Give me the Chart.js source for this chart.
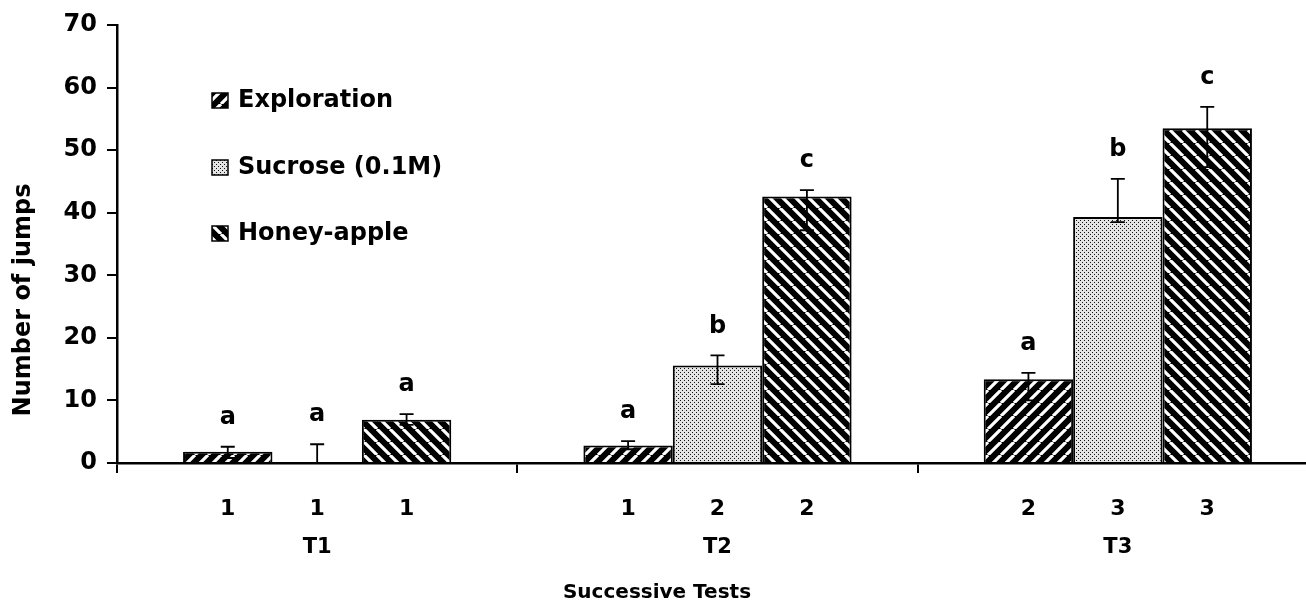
<!DOCTYPE html>
<html>
<head>
<meta charset="utf-8">
<script src="https://cdn.jsdelivr.net/npm/chart.js"></script>
<style>
html, body { margin: 0; padding: 0; overflow: hidden; background: #fff; }
#wrap { width: 1320px; height: 609px; }
</style>
</head>
<body>
<div id="wrap"><canvas id="jumps"></canvas></div>
<script>
var tests = ["T1", "T2", "T3"]
var exploration = [1.8, 2.8, 13.4]
var sucrose = [0, 15.6, 39.3]
var honeyApple = [6.9, 42.6, 53.5]

// error bar ends
var explorationHigh = [2.6, 3.5, 14.4]
var explorationLow = [0.8, 2.2, 10.0]
var sucroseHigh = [3.0, 17.2, 45.4]
var sucroseLow = [0, 12.6, 38.5]
var honeyHigh = [7.8, 43.6, 56.9]
var honeyLow = [6.1, 37.2, 47.3]

// letters above bars and numbers under them
var explorationLetters = ["a", "a", "a"]
var sucroseLetters = ["a", "b", "b"]
var honeyLetters = ["a", "c", "c"]
var explorationRank = ["1", "1", "2"]
var sucroseRank = ["1", "2", "3"]
var honeyRank = ["1", "2", "3"]

var FONT = "'DejaVu Sans', sans-serif"
var highs = [explorationHigh, sucroseHigh, honeyHigh]
var lows = [explorationLow, sucroseLow, honeyLow]
var letters = [explorationLetters, sucroseLetters, honeyLetters]
var ranks = [explorationRank, sucroseRank, honeyRank]

var el = document.getElementById("jumps");
var mainCtx = el.getContext("2d");

function stripes(dir) {
    var s = 13;
    var c = document.createElement("canvas");
    c.width = s; c.height = s;
    var g = c.getContext("2d");
    g.fillStyle = "#000";
    g.fillRect(0, 0, s, s);
    g.strokeStyle = "#fff";
    g.lineWidth = 3.2;
    g.beginPath();
    for (var k = -1; k <= 1; k++) {
        if (dir > 0) { g.moveTo(k * s, s); g.lineTo(k * s + s, 0); }
        else { g.moveTo(k * s, 0); g.lineTo(k * s + s, s); }
    }
    g.stroke();
    return mainCtx.createPattern(c, "repeat");
}

function dots() {
    var c = document.createElement("canvas");
    c.width = 4; c.height = 4;
    var g = c.getContext("2d");
    g.fillStyle = "#e4e4e4";
    g.fillRect(0, 0, 4, 4);
    g.fillStyle = "#111";
    g.fillRect(0, 0, 1, 1);
    g.fillRect(2, 2, 1, 1);
    return mainCtx.createPattern(c, "repeat");
}

var extras = {
    id: "extras",
    afterDatasetsDraw: function (chart) {
        var ctx = chart.ctx, y = chart.scales.y;
        ctx.save();
        ctx.strokeStyle = "#000";
        ctx.fillStyle = "#000";
        ctx.lineWidth = 1.8;
        ctx.textAlign = "center";
        ctx.textBaseline = "middle";
        chart.data.datasets.forEach(function (ds, i) {
            chart.getDatasetMeta(i).data.forEach(function (bar, j) {
                var top = y.getPixelForValue(highs[i][j]);
                var bot = y.getPixelForValue(lows[i][j]);
                ctx.beginPath();
                ctx.moveTo(bar.x, top); ctx.lineTo(bar.x, bot);
                ctx.moveTo(bar.x - 7, top); ctx.lineTo(bar.x + 7, top);
                ctx.moveTo(bar.x - 7, bot); ctx.lineTo(bar.x + 7, bot);
                ctx.stroke();
                ctx.font = "bold 24px " + FONT;
                ctx.fillText(letters[i][j], bar.x, top - 29);
                ctx.font = "bold 22px " + FONT;
                ctx.fillText(ranks[i][j], bar.x, chart.chartArea.bottom + 46);
            });
        });
        ctx.restore();
    },
    afterDraw: function (chart) {
        var ctx = chart.ctx;
        var rows = [101, 168, 234];
        ctx.save();
        ctx.font = "bold 24px " + FONT;
        ctx.textBaseline = "middle";
        ctx.textAlign = "left";
        chart.data.datasets.forEach(function (ds, i) {
            var cy = rows[i];
            ctx.fillStyle = ds.backgroundColor;
            ctx.fillRect(212, cy - 8, 16, 15);
            ctx.strokeStyle = "#000";
            ctx.lineWidth = 1.5;
            ctx.strokeRect(212, cy - 8, 16, 15);
            ctx.fillStyle = "#000";
            ctx.fillText(ds.label, 238, cy);
        });
        // axis titles, centred on the whole figure
        ctx.textAlign = "center";
        ctx.font = "bold 20px " + FONT;
        ctx.fillText("Successive Tests", 657, 593);
        ctx.translate(24, 300);
        ctx.rotate(-Math.PI / 2);
        ctx.font = "bold 24px " + FONT;
        ctx.fillText("Number of jumps", 0, 0);
        ctx.restore();
    }
};

var chart = new Chart(el, {
    type: "bar",
    data: {
        labels: tests,
        datasets: [
            { label: "Exploration", data: exploration, backgroundColor: stripes(1), borderColor: "#000", borderWidth: 2 },
            { label: "Sucrose (0.1M)", data: sucrose, backgroundColor: dots(), borderColor: "#000", borderWidth: 2 },
            { label: "Honey-apple", data: honeyApple, backgroundColor: stripes(-1), borderColor: "#000", borderWidth: 2 }
        ]
    },
    options: {
        responsive: true,
        maintainAspectRatio: false,
        animation: false,
        layout: { padding: { top: 25, right: 2 } },
        datasets: { bar: { categoryPercentage: 0.67, barPercentage: 1.0 } },
        plugins: { legend: { display: false }, tooltip: { enabled: false } },
        scales: {
            x: {
                grid: { display: true, drawOnChartArea: false, offset: true, tickLength: 10, color: "#000", lineWidth: 2 },
                border: { color: "#000", width: 2.5 },
                ticks: { color: "#000", font: { family: FONT, weight: "bold", size: 21 }, padding: 62, maxRotation: 0 },
                afterFit: function (s) { s.height = 146; }
            },
            y: {
                min: 0,
                max: 70,
                grid: { drawOnChartArea: false, tickLength: 10, color: "#000", lineWidth: 2 },
                border: { color: "#000", width: 2.5 },
                ticks: { stepSize: 10, color: "#000", font: { family: FONT, weight: "bold", size: 24 }, padding: 10 },
                afterFit: function (s) { s.width = 117; }
            }
        }
    },
    plugins: [extras]
});
</script>
</body>
</html>
